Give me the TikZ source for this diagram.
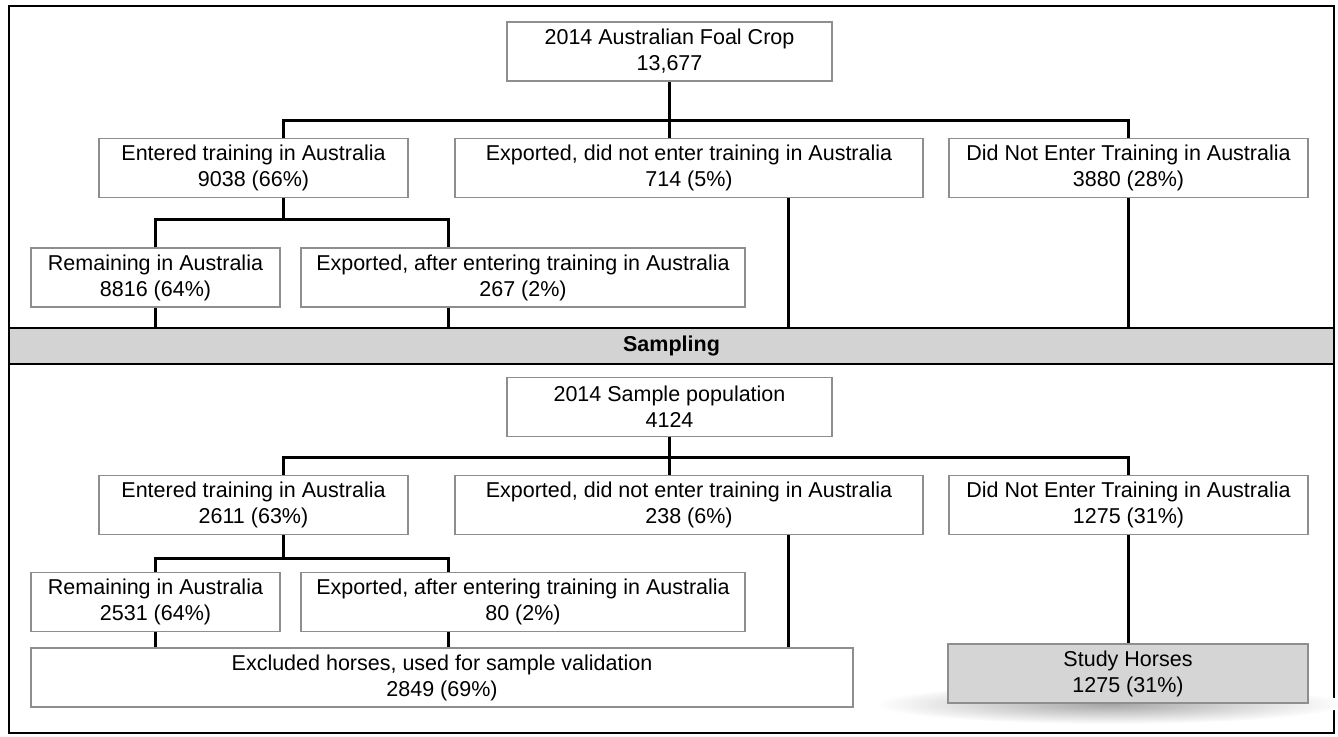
\documentclass[tikz,border=0pt]{standalone}
\usepackage{tikz}
\usepackage{fontspec}
\setmainfont{Liberation Sans}
\definecolor{boxgrey}{HTML}{8E8E8E}
\definecolor{bandgrey}{HTML}{D3D3D3}
\definecolor{studygrey}{HTML}{D5D5D5}
\usetikzlibrary{calc}

\begin{document}
\begin{tikzpicture}[
  x=1pt, y=-1pt,
  font=\fontsize{21.5}{26}\selectfont,
  box/.style={draw=boxgrey, line width=1.3pt, fill=white, align=center, inner sep=0pt, minimum height=59pt},
  studybox/.style={box, fill=studygrey},
  band/.style={draw=black, line width=2pt, fill=bandgrey, inner sep=0pt, minimum width=1325pt, minimum height=36pt, font=\fontsize{21.5}{26}\selectfont\bfseries},
  link/.style={line width=3pt, color=black},
]
  \useasboundingbox (0,0) rectangle (1338,736);
  \draw[line width=2pt] (9,6) rectangle (1334,733);

  \node[box, minimum width=325pt] (crop) at (669.5,51.5) {2014 Australian Foal Crop\\13,677};
  \node[box, minimum width=309pt] (enter1) at (253.5,168) {Entered training in Australia\\9038 (66\%)};
  \node[box, minimum width=468pt] (expno1) at (689,168) {Exported, did not enter training in Australia\\714 (5\%)};
  \node[box, minimum width=359pt] (noent1) at (1128.5,168) {Did Not Enter Training in Australia\\3880 (28\%)};
  \node[box, minimum width=249pt] (remain1) at (155.5,277.5) {Remaining in Australia\\8816 (64\%)};
  \node[box, minimum width=444pt] (expaft1) at (523,277.5) {Exported, after entering training in Australia\\267 (2\%)};
  \node[band] (sampling) at (671.5,346) {Sampling};

  \node[box, minimum width=325pt] (sample) at (669.5,407) {2014 Sample population\\4124};
  \node[box, minimum width=309pt] (enter2) at (253.5,505) {Entered training in Australia\\2611 (63\%)};
  \node[box, minimum width=468pt] (expno2) at (689,505) {Exported, did not enter training in Australia\\238 (6\%)};
  \node[box, minimum width=359pt] (noent2) at (1128.5,505) {Did Not Enter Training in Australia\\1275 (31\%)};
  \node[box, minimum width=249pt] (remain2) at (155.5,602) {Remaining in Australia\\2531 (64\%)};
  \node[box, minimum width=444pt] (expaft2) at (523,602) {Exported, after entering training in Australia\\80 (2\%)};
  \node[box, minimum width=822pt] (excluded) at (442,677.5) {Excluded horses, used for sample validation\\2849 (69\%)};
  \shade[inner color=black!35, outer color=white] (1110,704) ellipse [x radius=235pt, y radius=20pt];
  \node[studybox, minimum width=360pt] (studyh) at (1128,673.5) {Study Horses\\1275 (31\%)};

  \coordinate (t1l) at (283,120);
  \coordinate (t1r) at (1128,120);
  \coordinate (t2l) at (155,219);
  \coordinate (t2r) at (448,219);
  \coordinate (drop) at (788,0);
  \draw[link] (crop) -- (crop.south |- expno1.north);
  \draw[link] (t1l |- enter1.north) -- (t1l) -- (t1r) -- (t1r |- noent1.north);
  \draw[link] (t1l |- enter1.south) -- (t1l |- t2l);
  \draw[link] (t2l |- remain1.north) -- (t2l) -- (t2r) -- (t2r |- expaft1.north);
  \draw[link] (t2l |- remain1.south) -- (t2l |- sampling.north);
  \draw[link] (t2r |- expaft1.south) -- (t2r |- sampling.north);
  \draw[link] (drop |- expno1.south) -- (drop |- sampling.north);
  \draw[link] (t1r |- noent1.south) -- (t1r |- sampling.north);

  \coordinate (b1l) at (283,457);
  \coordinate (b1r) at (1128,457);
  \coordinate (b2l) at (155,558);
  \coordinate (b2r) at (448,558);
  \draw[link] (sample) -- (sample.south |- expno2.north);
  \draw[link] (b1l |- enter2.north) -- (b1l) -- (b1r) -- (b1r |- noent2.north);
  \draw[link] (b1l |- enter2.south) -- (b1l |- b2l);
  \draw[link] (b2l |- remain2.north) -- (b2l) -- (b2r) -- (b2r |- expaft2.north);
  \draw[link] (b2l |- remain2.south) -- (b2l |- excluded.north);
  \draw[link] (b2r |- expaft2.south) -- (b2r |- excluded.north);
  \draw[link] (drop |- expno2.south) -- (drop |- excluded.north);
  \draw[link] (b1r |- noent2.south) -- (b1r |- studyh.north);
\end{tikzpicture}
\end{document}
